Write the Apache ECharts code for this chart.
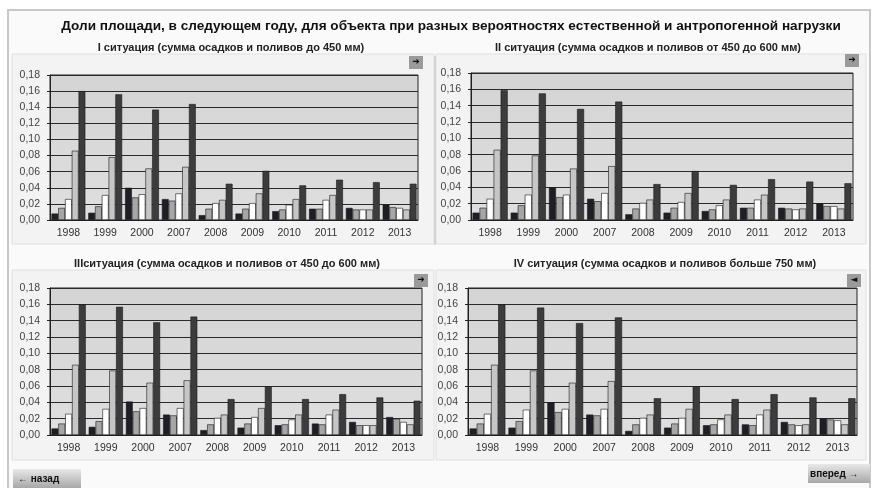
<!DOCTYPE html>
<html><head><meta charset="utf-8">
<script src="https://cdn.jsdelivr.net/npm/echarts@6/dist/echarts.min.js"></script>
<style>html,body{margin:0;padding:0;background:#fff}#c{width:875px;height:488px}</style>
</head><body><div id="c"></div>
<script>
const years = ['1998','1999','2000','2007','2008','2009','2010','2011','2012','2013'];
const yTicks = ['0,00','0,02','0,04','0,06','0,08','0,10','0,12','0,14','0,16','0,18'];
const mainTitle = 'Доли площади, в следующем году, для объекта при разных вероятностях естественной и антропогенной нагрузки';
const panelTitles = [
  'I ситуация (сумма осадков и поливов до 450 мм)',
  'II ситуация (сумма осадков и поливов от 450 до 600 мм)',
  'IIIситуация (сумма осадков и поливов от 450 до 600 мм)',
  'IV ситуация (сумма осадков и поливов больше 750 мм)'
];
// Panel I
const p1a = [0.008,0.009,0.040,0.026,0.006,0.008,0.011,0.014,0.015,0.019];
const p1b = [0.015,0.017,0.028,0.024,0.014,0.014,0.013,0.014,0.013,0.016];
const p1c = [0.026,0.031,0.032,0.033,0.021,0.021,0.019,0.025,0.013,0.015];
const p1d = [0.086,0.078,0.064,0.066,0.025,0.033,0.026,0.031,0.013,0.013];
const p1e = [0.160,0.156,0.137,0.144,0.045,0.061,0.043,0.050,0.047,0.045];
// Panel II
const p2a = [0.009,0.009,0.040,0.026,0.007,0.009,0.011,0.015,0.015,0.020];
const p2b = [0.015,0.018,0.028,0.023,0.014,0.015,0.013,0.015,0.014,0.017];
const p2c = [0.026,0.031,0.031,0.033,0.021,0.022,0.018,0.025,0.013,0.017];
const p2d = [0.086,0.079,0.063,0.066,0.025,0.033,0.025,0.031,0.014,0.014];
const p2e = [0.159,0.155,0.136,0.145,0.044,0.060,0.043,0.050,0.047,0.045];
// Panel III
const p3a = [0.008,0.010,0.041,0.025,0.006,0.009,0.012,0.014,0.016,0.022];
const p3b = [0.014,0.017,0.029,0.024,0.013,0.014,0.013,0.013,0.012,0.020];
const p3c = [0.026,0.032,0.033,0.033,0.021,0.022,0.019,0.025,0.012,0.016];
const p3d = [0.086,0.079,0.064,0.067,0.025,0.033,0.025,0.031,0.012,0.013];
const p3e = [0.160,0.157,0.138,0.145,0.044,0.059,0.044,0.050,0.046,0.042];
// Panel IV
const p4a = [0.008,0.009,0.040,0.025,0.005,0.009,0.012,0.013,0.016,0.020];
const p4b = [0.014,0.017,0.028,0.024,0.013,0.014,0.013,0.012,0.013,0.019];
const p4c = [0.026,0.031,0.032,0.032,0.021,0.021,0.019,0.025,0.012,0.018];
const p4d = [0.086,0.079,0.064,0.066,0.025,0.032,0.025,0.031,0.013,0.013];
const p4e = [0.160,0.156,0.137,0.144,0.045,0.059,0.044,0.050,0.046,0.045];

const panels = [[p1a,p1b,p1c,p1d,p1e],[p2a,p2b,p2c,p2d,p2e],[p3a,p3b,p3c,p3d,p3e],[p4a,p4b,p4c,p4d,p4e]];
const barColors = ['#1e1e26','#a6a6a6','#ffffff','#c6c6c6','#3c3c3e'];
const grids = [
  {left:50, top:75, width:368, height:145},
  {left:471, top:73, width:382, height:147},
  {left:50, top:288, width:372, height:147},
  {left:468, top:288, width:389, height:147}
];
const titlePos = [[226,37],[643,37],[222,253],[660,253]];
const FONT = '"Liberation Sans", Arial, sans-serif';
const bg = new echarts.graphic.LinearGradient(0,0,0,1,[{offset:0,color:'#d4d4d4'},{offset:1,color:'#dfdfdf'}]);

const option = {
  animation:false,
  backgroundColor:'#ffffff',
  textStyle:{fontFamily:FONT},
  title:[{text:mainTitle,left:446,textAlign:'center',top:14,textStyle:{fontSize:13.6,fontWeight:'bold',color:'#111',fontFamily:FONT}}]
    .concat(panelTitles.map((t,i)=>({text:t,left:titlePos[i][0],top:titlePos[i][1],textAlign:'center',
      textStyle:{fontSize:11,fontWeight:'bold',color:'#222',fontFamily:FONT}}))),
  grid: grids.map(g=>Object.assign({show:true,backgroundColor:bg,borderColor:'#222',borderWidth:1},g)),
  xAxis: grids.map((g,i)=>({type:'category',gridIndex:i,data:years,
    axisLine:{lineStyle:{color:'#222'}},axisTick:{show:false},
    axisLabel:{color:'#333',fontSize:10.5,fontFamily:FONT,margin:8}})),
  yAxis: grids.map((g,i)=>({type:'value',gridIndex:i,min:0,max:0.18,interval:0.02,
    axisLine:{show:true,lineStyle:{color:'#222'}},axisTick:{show:true,length:3,lineStyle:{color:'#222'}},
    splitLine:{lineStyle:{color:'#2a2a2a',width:1}},
    axisLabel:{color:'#444',fontSize:10.5,fontFamily:FONT,margin:10,formatter:v=>yTicks[Math.round(v/0.02)]}})),
  series: [],
  graphic: []
};
panels.forEach((arrs,pi)=>{
  arrs.forEach((arr,si)=>{
    option.series.push({type:'bar',xAxisIndex:pi,yAxisIndex:pi,data:arr,barGap:'0%',barCategoryGap:'8%',
      itemStyle:{color:barColors[si],borderColor:'#1a1a1a',borderWidth:0.6}});
  });
});
// frames
option.graphic.push({type:'rect',shape:{x:8,y:10,width:862,height:480},style:{fill:'#fafafa',stroke:'#c8c8c8',lineWidth:2},silent:true,z:-10});
[[12,54,422,190],[436,54,430,190],[12,270,422,190],[436,270,430,190]].forEach(r=>{
  option.graphic.push({type:'rect',shape:{x:r[0],y:r[1],width:r[2],height:r[3]},style:{fill:'#f3f3f3',stroke:'#e0e0e0',lineWidth:1},silent:true,z:-5});
});
option.graphic.push({type:'line',shape:{x1:435,y1:56,x2:435,y2:245},style:{stroke:'#bbbbbb',lineWidth:1},silent:true});
// small arrow buttons
const btns = [[411,58,'➜'],[847,56,'➜'],[416,276,'➜'],[849,276,'◄']];
btns.forEach(b=>{
  option.graphic.push({type:'rect',shape:{x:b[0]-2,y:b[1]-2,width:14,height:13},style:{fill:'#9a9a9a'},silent:true});
  option.graphic.push({type:'text',x:b[0]+5,y:b[1]+4,style:{text:b[2],fill:'#111',fontSize:9,align:'center',verticalAlign:'middle',fontFamily:'DejaVu Sans'},silent:true});
});
// nav buttons
option.graphic.push({type:'rect',shape:{x:13,y:469,width:68,height:19},style:{fill:new echarts.graphic.LinearGradient(0,0,0,1,[{offset:0,color:'#e8e8e8'},{offset:1,color:'#a8a8a8'}])},silent:true});
option.graphic.push({type:'text',x:18,y:479,style:{text:'← назад',fill:'#111',fontSize:10,fontWeight:'bold',verticalAlign:'middle',fontFamily:FONT},silent:true});
option.graphic.push({type:'rect',shape:{x:808,y:464,width:62,height:19},style:{fill:new echarts.graphic.LinearGradient(0,0,0,1,[{offset:0,color:'#e8e8e8'},{offset:1,color:'#a8a8a8'}])},silent:true});
option.graphic.push({type:'text',x:810,y:474,style:{text:'вперед →',fill:'#111',fontSize:10,fontWeight:'bold',verticalAlign:'middle',fontFamily:FONT},silent:true});

const chart = echarts.init(document.getElementById('c'),null,{renderer:'canvas'});
chart.setOption(option);
</script></body></html>
